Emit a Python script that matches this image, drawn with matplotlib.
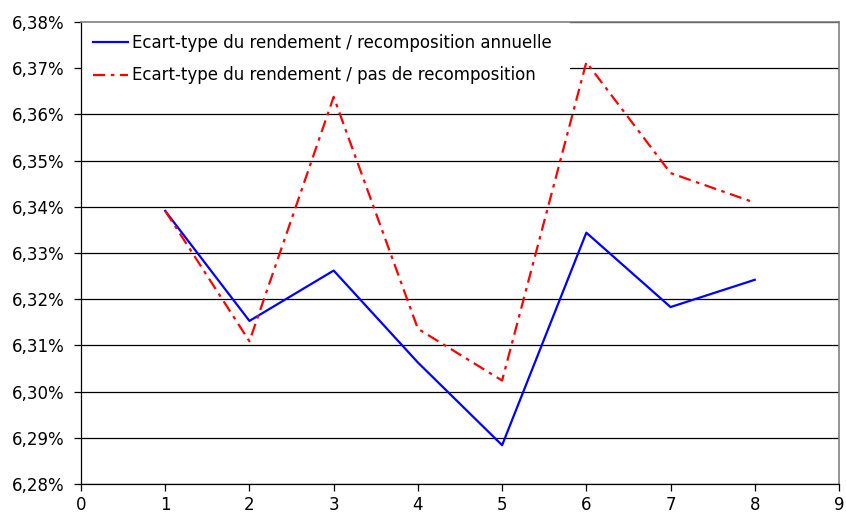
import matplotlib
matplotlib.use("Agg")
import matplotlib.pyplot as plt
from matplotlib.ticker import FuncFormatter, MultipleLocator

x = [1, 2, 3, 4, 5, 6, 7, 8]
annuelle = [6.3391, 6.3153, 6.3262, 6.3063, 6.2884, 6.3344, 6.3183, 6.3242]
pas_recomp = [6.3391, 6.3109, 6.3638, 6.3136, 6.3024, 6.3713, 6.3473, 6.3409]
label_annuelle = "Ecart-type du rendement / recomposition annuelle"
label_pas = "Ecart-type du rendement / pas de recomposition"

plt.rcParams['font.family'] = ['DejaVu Sans']
fig = plt.figure(figsize=(8.46, 5.15), dpi=100)
ax = fig.add_axes([81/846, 31/515, 758/846, 462/515])

ax.plot(x, annuelle, color='#0000ff', lw=1.6, label=label_annuelle, zorder=3)
ax.plot(x, pas_recomp, color='#ff0000', lw=1.6, linestyle=(0, (5.5, 2.5, 1.6, 2.5)),
        label=label_pas, zorder=3)

ax.set_xlim(0, 9)
ax.set_ylim(6.28, 6.38)
ax.xaxis.set_major_locator(MultipleLocator(1))
ax.yaxis.set_major_locator(MultipleLocator(0.01))
ax.yaxis.set_major_formatter(FuncFormatter(lambda v, p: f"{v:.2f}%".replace('.', ',')))
ax.grid(axis='y', color='black', lw=0.9, zorder=1)
ax.set_axisbelow(True)
ax.tick_params(axis='both', direction='out', length=5, width=0.9, color='black',
               labelsize=12)
ax.tick_params(axis='y', pad=7)
ax.tick_params(axis='x', pad=4)
for s in ['left', 'bottom']:
    ax.spines[s].set_color('black')
    ax.spines[s].set_linewidth(0.9)
for s in ['top', 'right']:
    ax.spines[s].set_color('#808080')
    ax.spines[s].set_linewidth(1.2)

leg = ax.legend(loc='upper left', bbox_to_anchor=(0.0, 0.0, 489/758, 1.0), mode='expand',
                frameon=True, fontsize=12,
                handlelength=2.1, handletextpad=0.27, labelspacing=0.87,
                borderaxespad=0.0, borderpad=0.72, fancybox=False, framealpha=1.0)
leg.get_frame().set_edgecolor('none')
leg.get_frame().set_facecolor('white')
leg.set_zorder(2)

fig.savefig("out.png", dpi=100, facecolor='white')
